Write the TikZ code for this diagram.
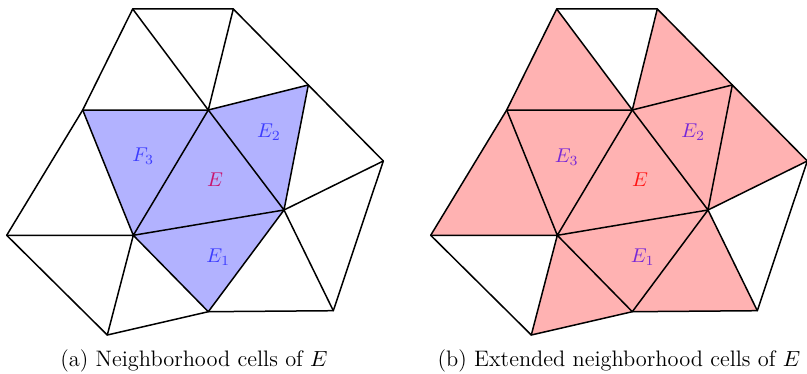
\documentclass[tikz,border=0pt]{standalone}
\usepackage{xcolor}
\definecolor{lblE}{RGB}{200,20,110}
\definecolor{lblEi}{RGB}{60,60,255}
\definecolor{lblEr}{RGB}{255,20,20}
\definecolor{lblEv}{RGB}{120,40,215}
\tikzset{
  edge/.style={line width=0.75pt, line join=round, line cap=round},
  lbl/.style={inner sep=0pt, font=\fontsize{10}{12}\selectfont},
  captext/.style={inner sep=0pt, anchor=base, font=\fontsize{11.2}{13}\selectfont},
}
\newcommand{\meshpts}{%
  \coordinate (T1) at (132.7,9);
  \coordinate (T2) at (233.3,9);
  \coordinate (A) at (208.3,110);
  \coordinate (B) at (82.7,110);
  \coordinate (C) at (308.3,85);
  \coordinate (D) at (383.3,161);
  \coordinate (P) at (284,210);
  \coordinate (Q) at (133.3,235.3);
  \coordinate (L) at (6.7,235.3);
  \coordinate (R) at (333.3,310.7);
  \coordinate (S) at (208.3,311.7);
  \coordinate (U) at (107.3,335);
}
\newcommand{\meshedges}{%
  \draw[edge] (T1) -- (T2) -- (C) -- (D) -- (R) -- (S) -- (U) -- (L) -- (B) -- cycle;
  \draw[edge] (T1) -- (A) -- (T2);
  \draw[edge] (B) -- (A) -- (C);
  \draw[edge] (A) -- (Q) -- (B);
  \draw[edge] (A) -- (P) -- (C);
  \draw[edge] (P) -- (D);
  \draw[edge] (L) -- (Q) -- (U);
  \draw[edge] (Q) -- (S) -- (P) -- (Q);
  \draw[edge] (P) -- (R);
}
\begin{document}
\begin{tikzpicture}[x=0.5pt,y=-0.5pt]
\useasboundingbox (0,0) rectangle (807,374);
% ---- panel (a)
\begin{scope}
  \meshpts
  \fill[blue!30] (A) -- (Q) -- (P) -- cycle;
  \fill[blue!30] (Q) -- (P) -- (S) -- cycle;
  \fill[blue!30] (A) -- (C) -- (P) -- cycle;
  \fill[blue!30] (B) -- (A) -- (Q) -- cycle;
  \meshedges
  \node[lbl, text=lblE] (aE) at (215,180) {$E$};
  \node[lbl, text=lblEi] (aE1) at (218.3,256.7) {$E_1$};
  \node[lbl, text=lblEi] (aE2) at (269,132) {$E_2$};
  \node[lbl, text=lblEi] (aF3) at (143.3,156) {$F_3$};
\end{scope}
% ---- panel (b)
\begin{scope}[shift={(424,0)}]
  \meshpts
  \fill[red!30] (A) -- (Q) -- (P) -- cycle;
  \fill[red!30] (Q) -- (P) -- (S) -- cycle;
  \fill[red!30] (A) -- (C) -- (P) -- cycle;
  \fill[red!30] (B) -- (A) -- (Q) -- cycle;
  \fill[red!30] (T1) -- (B) -- (A) -- cycle;
  \fill[red!30] (B) -- (L) -- (Q) -- cycle;
  \fill[red!30] (T2) -- (C) -- (A) -- cycle;
  \fill[red!30] (C) -- (D) -- (P) -- cycle;
  \fill[red!30] (S) -- (P) -- (R) -- cycle;
  \fill[red!30] (U) -- (Q) -- (S) -- cycle;
  \meshedges
  \node[lbl, text=lblEr] (bE) at (216,180) {$E$};
  \node[lbl, text=lblEv] (bE1) at (218.7,256.7) {$E_1$};
  \node[lbl, text=lblEv] (bE2) at (269.3,131.7) {$E_2$};
  \node[lbl, text=lblEv] (bE3) at (142.7,156.7) {$E_3$};
\end{scope}
% captions
\node[captext] (capa) at (194,366) {(a) Neighborhood cells of $E$};
\node[captext] (capb) at (619,366) {(b) Extended neighborhood cells of $E$};
\end{tikzpicture}
\end{document}
